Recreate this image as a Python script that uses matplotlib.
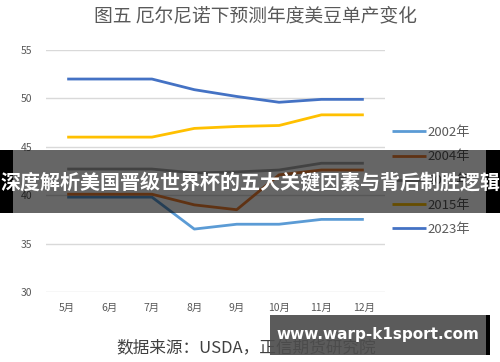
import matplotlib.pyplot as plt
from matplotlib.patches import Rectangle

plt.rcParams['font.family'] = ['Noto Sans CJK SC', 'DejaVu Sans']

months = ["5月", "6月", "7月", "8月", "9月", "10月", "11月", "12月"]
y2002 = [39.8, 39.8, 39.8, 36.5, 37.0, 37.0, 37.5, 37.5]
y2004 = [40.1, 40.1, 40.1, 39.0, 38.5, 42.1, 42.6, 42.6]
y2012 = [42.7, 42.7, 42.7, 42.3, 42.4, 42.6, 43.3, 43.3]
y2015 = [46.0, 46.0, 46.0, 46.9, 47.1, 47.2, 48.3, 48.3]
y2023 = [52.0, 52.0, 52.0, 50.9, 50.2, 49.6, 49.9, 49.9]

series = [
    ("2002年", y2002, "#5B9BD5"),
    ("2004年", y2004, "#ED7D31"),
    ("2012年", y2012, "#A5A5A5"),
    ("2015年", y2015, "#FFC000"),
    ("2023年", y2023, "#4472C4"),
]

fig = plt.figure(figsize=(5, 3.62), dpi=100)
ax = fig.add_axes([0.092, 0.1934, 0.678, 0.6685])

x = range(len(months))
for label, vals, color in series:
    ax.plot(x, vals, color=color, lw=2.0, label=label, solid_capstyle="butt")

ax.set_xlim(-0.5, len(months) - 0.5)
ax.set_ylim(30, 55)
ax.set_yticks([30, 35, 40, 45, 50, 55])
ax.set_xticks(list(x))
ax.set_xticklabels(months)
ax.grid(axis="y", color="#D9D9D9", lw=1)
ax.set_axisbelow(True)
for s in ax.spines.values():
    s.set_visible(False)
ax.tick_params(length=0, labelsize=7.5, colors="#595959", pad=8)
ax.tick_params(axis="y", pad=10)

ax.legend(loc="upper left", bbox_to_anchor=(0.985, 0.735), frameon=False,
          fontsize=9.5, handlelength=2.6, handletextpad=0.1,
          labelspacing=0.85, labelcolor="#595959")

fig.text(0.51, 0.957, "图五 厄尔尼诺下预测年度美豆单产变化", ha="center",
         va="center", fontsize=13.5, color="#595959")
fig.text(0.493, 0.038, "数据来源：USDA，正信期货研究院", ha="center",
         va="center", fontsize=12, color="#404040")

# overlay banner
fig.patches.append(Rectangle((0, 0.4116), 1, 0.174, transform=fig.transFigure,
                             facecolor="black", alpha=0.6, zorder=5))
fig.patches.append(Rectangle((0, 0.4116), 0.026, 0.174, transform=fig.transFigure,
                             facecolor="black", zorder=5))
fig.patches.append(Rectangle((0.972, 0.4116), 0.028, 0.174, transform=fig.transFigure,
                             facecolor="black", zorder=5))
fig.text(0.5, 0.497, "深度解析美国晋级世界杯的五大关键因素与背后制胜逻辑",
         ha="center", va="center", fontsize=14.4, color="white",
         fontweight="bold", zorder=6)

# watermark box
fig.patches.append(Rectangle((0.54, 0.019), 0.432, 0.111, transform=fig.transFigure,
                             facecolor="#4d4d4d", alpha=0.92, zorder=5))
fig.patches.append(Rectangle((0.972, 0.019), 0.008, 0.111, transform=fig.transFigure,
                             facecolor="black", zorder=5))
fig.text(0.756, 0.077, "www.warp-k1sport.com", ha="center", va="center",
         fontsize=11, color="white", fontweight="bold",
         family=["DejaVu Sans"], zorder=6)

fig.savefig("out.png", dpi=100)
